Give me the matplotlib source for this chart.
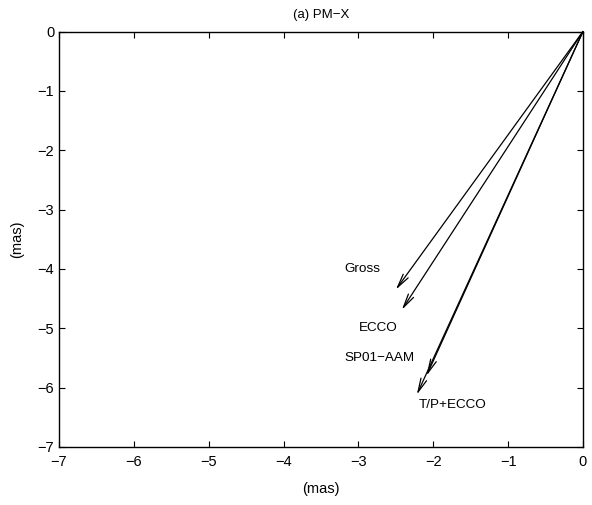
import matplotlib.pyplot as plt
import numpy as np

plt.rcParams['font.family'] = ['Liberation Sans', 'DejaVu Sans']

# arrow tips (mas), all arrows start at origin
names = ['Gross', 'ECCO', 'SP01\u2212AAM', 'T/P+ECCO']
tip_x = [-2.50, -2.42, -2.09, -2.22]
tip_y = [-4.35, -4.69, -5.80, -6.12]
# label positions (left edge, vertical centre)
lab_x = [-3.19, -2.99, -3.19, -2.19]
lab_y = [-4.00, -4.99, -5.50, -6.30]

fig = plt.figure(figsize=(5.92, 5.05), dpi=100)
ax = fig.add_axes([0.0997, 0.115, 0.885, 0.8226])

for tx, ty in zip(tip_x, tip_y):
    ax.annotate('', xy=(tx, ty), xytext=(0, 0),
                arrowprops=dict(arrowstyle='->,head_length=1.0,head_width=0.22',
                                color='black', lw=0.9, shrinkA=0, shrinkB=0))

for nm, lx, ly in zip(names, lab_x, lab_y):
    ax.text(lx, ly, nm, fontsize=9.7, ha='left', va='center')

ax.set_xlim(-7, 0)
ax.set_ylim(-7, 0)
ax.set_xticks(np.arange(-7, 1))
ax.set_yticks(np.arange(-7, 1))
ax.set_xticklabels([('\u2212%d' % -v) if v < 0 else '0' for v in range(-7, 1)])
ax.set_yticklabels([('\u2212%d' % -v) if v < 0 else '0' for v in range(-7, 1)])
ax.tick_params(direction='in', top=True, right=True, length=4, labelsize=10.5, width=0.8)
ax.tick_params(axis='x', pad=6)
for s in ax.spines.values():
    s.set_linewidth(1.0)

ax.set_title('(a) PM\u2212X', fontsize=9.5, pad=10)
ax.set_xlabel('(mas)', fontsize=10.5, labelpad=9)
ax.set_ylabel('(mas)', fontsize=10.5, labelpad=10)

fig.savefig('out.png', dpi=100)
